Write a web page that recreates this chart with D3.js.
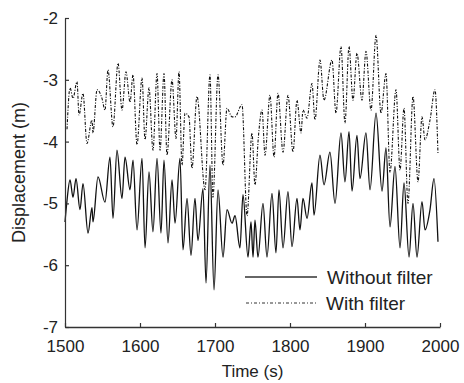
<!DOCTYPE html>
<html><head><meta charset="utf-8">
<script src="https://cdn.jsdelivr.net/npm/d3@7"></script>
<style>body{margin:0;background:#fff}svg{display:block}text{font-family:"Liberation Sans",Arial,sans-serif;fill:#222}</style>
</head><body>
<script>
// Without filter: times (s) and displacement (m) at the turning points
const timeA = [1500,1502.7,1506.7,1510.7,1514.7,1520,1524,1530.7,1536,1537.3,1544,1553.3,1560,1564,1569.3,1576,1580,1586.7,1590.7,1596,1602.7,1606.7,1612,1617.3,1622.7,1628,1632,1637.3,1642.7,1646.7,1653.3,1657.3,1662.7,1668,1673.3,1677.3,1684,1688,1693.3,1698.7,1704,1710.7,1716,1722.7,1726.7,1733.3,1737.3,1744,1748,1750.7,1753.3,1757.3,1764,1769.3,1776,1781.3,1785.3,1790.7,1797.3,1802.7,1809.3,1813.3,1817.3,1822.7,1829.3,1832,1840,1845.3,1853.3,1860,1868,1873.3,1878.7,1882.7,1889.3,1893.3,1901.3,1906.7,1914.7,1922.7,1928,1933.3,1940,1946.7,1952,1958.7,1964,1969.3,1976,1980,1986.7,1992,1997.3];
const valA = [-5.3,-4.95,-4.62,-4.9,-4.6,-5.1,-4.68,-5.48,-5.07,-5.3,-4.57,-4.98,-4.25,-5.24,-4.14,-4.92,-4.25,-4.78,-4.3,-5.43,-4.27,-5.72,-4.49,-5.46,-4.27,-5.48,-4.3,-5.64,-4.62,-5.32,-4.27,-5.75,-4.92,-5.84,-4.92,-5.6,-4.76,-6.29,-4.38,-6.4,-4.78,-5.87,-5.1,-5.32,-5.2,-5.72,-4.86,-5.87,-5.3,-5.87,-5.27,-5.87,-5.0,-5.87,-4.84,-5.8,-4.78,-5.72,-4.81,-5.7,-4.92,-5.43,-4.92,-5.24,-4.67,-5.19,-4.22,-4.7,-4.17,-5.0,-3.86,-4.65,-3.84,-4.8,-3.9,-4.6,-3.86,-4.78,-3.54,-4.8,-4.1,-5.38,-4.4,-5.72,-4.67,-5.87,-5.0,-5.87,-4.97,-5.43,-5.1,-4.6,-5.62];
// With filter
const timeB = [1502.7,1506.7,1510.7,1516,1518.7,1524,1529.3,1536,1537.3,1542.7,1549.3,1553.3,1557.3,1564,1570.7,1576,1581.3,1586.7,1590.7,1596,1602.7,1606.7,1612,1617.3,1622.7,1626.7,1632,1636,1642.7,1648,1652,1656,1660,1665.3,1669.3,1676,1686.7,1693.3,1697.3,1704,1710.7,1716,1722.7,1726.7,1736,1742.7,1749.3,1753.3,1758,1762.7,1766.7,1773.3,1778.7,1784,1790.7,1797.3,1804,1809.3,1814.7,1817.3,1822.7,1829.3,1833.3,1840,1845.3,1856,1861.3,1868,1873.3,1878.7,1884,1889.3,1896,1901.3,1908,1914.7,1921.3,1928,1933.3,1941.3,1946.7,1952,1957.3,1964,1970.7,1976,1980,1986.7,1993.3,1997.3];
const valB = [-3.8,-3.13,-3.3,-3.03,-3.57,-3.22,-4.03,-3.65,-3.86,-3.16,-3.3,-3.49,-2.84,-3.76,-2.73,-3.49,-2.87,-3.36,-2.92,-4.05,-2.97,-3.97,-3.13,-4.14,-2.9,-4.14,-2.9,-4.22,-3.0,-3.95,-2.87,-4.38,-3.54,-3.6,-4.43,-3.27,-4.78,-2.92,-4.9,-2.92,-4.38,-3.46,-3.6,-3.6,-3.4,-5.2,-3.86,-4.7,-3.9,-3.49,-4.22,-3.25,-4.25,-3.22,-4.17,-3.25,-4.17,-3.33,-3.86,-3.49,-3.62,-3.06,-3.65,-2.68,-3.33,-2.68,-3.54,-2.46,-3.7,-2.46,-3.33,-2.57,-3.33,-2.54,-3.49,-2.28,-3.54,-2.9,-4.5,-3.16,-4.46,-3.46,-5.0,-3.27,-4.65,-3.6,-3.97,-3.65,-3.16,-4.2];
const xTicks = [1500,1600,1700,1800,1900,2000];
const yTicks = [-7,-6,-5,-4,-3,-2];
const legendLabels = ["Without filter","With filter"];

const W = 464, H = 383;
const m = {left:65, right:24, top:18, bottom:56};
const svg = d3.select("body").append("svg").attr("width",W).attr("height",H);
const x = d3.scaleLinear().domain([1500,2000]).range([m.left, W-m.right]);
const y = d3.scaleLinear().domain([-7,-2]).range([H-m.bottom, m.top]);

const line = d3.line().curve(d3.curveMonotoneX).x(d=>x(d[0])).y(d=>y(d[1]));
const dA = timeA.map((t,i)=>[t,valA[i]]);
const dB = timeB.map((t,i)=>[t,valB[i]]);

svg.append("path").datum(dB).attr("d",line).attr("fill","none").attr("stroke","#111").attr("stroke-width",1.1).attr("stroke-dasharray","3,1.5,1,1.5");
svg.append("path").datum(dA).attr("d",line).attr("fill","none").attr("stroke","#111").attr("stroke-width",1.3);

const gx = svg.append("g").attr("transform",`translate(0,${H-m.bottom})`)
  .call(d3.axisBottom(x).tickValues(xTicks).tickFormat(d3.format("d")).tickSizeInner(-4).tickSizeOuter(0).tickPadding(13));
const gy = svg.append("g").attr("transform",`translate(${m.left},0)`)
  .call(d3.axisLeft(y).tickValues(yTicks).tickFormat(d=>d<0?"-"+Math.abs(d):d).tickSizeInner(-4).tickSizeOuter(0).tickPadding(7));
[gx,gy].forEach(g=>{
  g.selectAll("text").attr("font-size",17).attr("font-family","Liberation Sans, Arial, sans-serif").attr("fill","#222");
  g.selectAll("line,path").attr("stroke","#333").attr("stroke-width",1.2);
});
gx.select("path").attr("stroke-width",1.6);

svg.append("text").attr("x",(m.left+W-m.right)/2).attr("y",377).attr("text-anchor","middle").attr("font-size",17).text("Time (s)");
svg.append("text").attr("transform",`translate(25,${(m.top+H-m.bottom)/2}) rotate(-90)`).attr("text-anchor","middle").attr("font-size",18).text("Displacement (m)");

const lg = svg.append("g");
lg.append("line").attr("x1",245).attr("x2",317).attr("y1",277).attr("y2",277).attr("stroke","#333").attr("stroke-width",1.3);
lg.append("line").attr("x1",246).attr("x2",318).attr("y1",303).attr("y2",303).attr("stroke","#333").attr("stroke-width",1).attr("stroke-dasharray","3,2,1,2");
lg.append("text").attr("x",327).attr("y",277).attr("dy","0.35em").attr("font-size",19).text(legendLabels[0]);
lg.append("text").attr("x",326).attr("y",303).attr("dy","0.35em").attr("font-size",19).text(legendLabels[1]);
</script>
</body></html>
